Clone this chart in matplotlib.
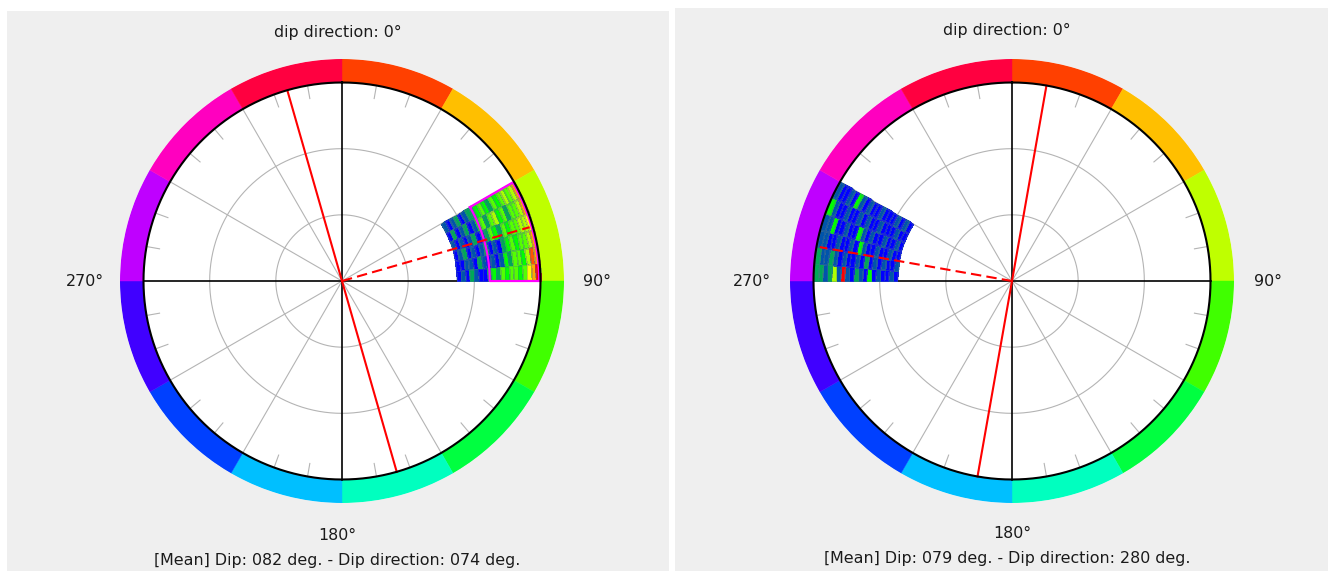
import numpy as np
import matplotlib.pyplot as plt
from matplotlib.colors import LinearSegmentedColormap
from matplotlib.patches import Rectangle

W, H = 1328, 571

# colour ring around the stereonet, clockwise from north, 30 deg per segment
ring_colors = ['#ff4000', '#ffbf00', '#bfff00', '#40ff00', '#00ff40', '#00ffbf',
               '#00bfff', '#0040ff', '#4000ff', '#bf00ff', '#ff00bf', '#ff0040']

# density grid: dip bins (radius) and dip direction bins (angle)
dip_edges = list(range(52, 92, 2))
left_dd_edges = [60, 65, 70, 75, 80, 85, 90]
right_dd_edges = [270, 275, 280, 285, 290, 295, 300]

# one row per dip-direction bin, one value per dip bin (52 -> 90)
left_counts = [
    [2, 1, 2, 3, 1, 2, 3, 3, 4, 5, 4, 3, 5, 4, 5, 6, 5, 6, 8],
    [1, 3, 1, 2, 3, 1, 2, 4, 5, 3, 5, 6, 4, 5, 3, 5, 5, 6, 8],
    [2, 1, 2, 1, 2, 3, 1, 2, 3, 5, 4, 3, 5, 4, 5, 5, 6, 6, 7],
    [1, 2, 3, 1, 2, 1, 2, 3, 1, 2, 1, 3, 4, 5, 4, 5, 5, 6, 8],
    [1, 1, 2, 2, 1, 3, 2, 1, 2, 1, 2, 4, 3, 5, 5, 4, 6, 9, 8],
    [1, 2, 1, 3, 2, 1, 1, 3, 4, 3, 5, 4, 5, 5, 4, 5, 7, 8, 10],
]
right_counts = [
    [1, 2, 1, 1, 2, 1, 4, 1, 2, 3, 1, 2, 10, 2, 6, 3, 2, 3, 3],
    [2, 1, 1, 2, 1, 2, 1, 3, 1, 2, 1, 1, 2, 1, 2, 3, 2, 2, 3],
    [1, 1, 2, 1, 1, 2, 1, 1, 2, 4, 1, 2, 1, 1, 2, 1, 1, 2, 2],
    [1, 2, 1, 1, 2, 1, 1, 2, 1, 2, 4, 1, 1, 2, 1, 1, 4, 2, 2],
    [1, 1, 2, 1, 1, 1, 2, 1, 1, 2, 1, 2, 1, 1, 2, 1, 1, 2, 4],
    [1, 2, 1, 2, 1, 1, 1, 2, 1, 1, 2, 1, 2, 4, 1, 2, 1, 1, 2],
]

left_mean = (82, 74)    # dip, dip direction
right_mean = (79, 280)
left_box = (60, 90, 67, 90)   # dd from, dd to, dip from, dip to

cmap = LinearSegmentedColormap.from_list('dens', ['#0000ff', '#00ff00', '#ffff00', '#ff0000'])

RMAX = 90 * 222 / 198.5
GRAY = '#b4b4b4'


def stereonet(fig, cx, cy, dd_edges, counts, mean, box=None):
    ax = fig.add_axes([(cx - 222) / W, (H - cy - 222) / H, 444 / W, 444 / H],
                      projection='polar')
    ax.set_zorder(2)
    ax.set_theta_zero_location('N')
    ax.set_theta_direction(-1)
    ax.set_ylim(0, RMAX)
    ax.set_xticks([])
    ax.set_yticks([])
    ax.grid(False)
    ax.spines['polar'].set_visible(False)
    ax.set_facecolor('white')

    # colour ring
    seg = np.deg2rad(np.arange(15, 360, 30))
    ax.bar(seg, RMAX - 90, width=np.deg2rad(30), bottom=90, color=ring_colors,
           edgecolor=ring_colors, linewidth=0.3, zorder=1)

    full = np.linspace(0, 2 * np.pi, 721)
    for r in (30, 60):
        ax.plot(full, np.full_like(full, r), color=GRAY, lw=0.8, zorder=1)
    for a in range(0, 360, 10):
        t = np.deg2rad(a)
        if a % 90 == 0:
            ax.plot([t, t], [0, 90], color='black', lw=1.2, zorder=1.5)
        elif a % 30 == 0:
            ax.plot([t, t], [0, 90], color=GRAY, lw=0.8, zorder=1)
        else:
            ax.plot([t, t], [84, 89.5], color=GRAY, lw=0.8, zorder=1)

    # density cells
    C = np.ma.masked_equal(np.array(counts).T, 0)
    ax.pcolormesh(np.deg2rad(dd_edges), dip_edges, C, cmap=cmap, vmin=1, vmax=10,
                  edgecolors=(0.3, 0.45, 0.55, 0.35), linewidth=0.4, zorder=2)

    if box is not None:
        a0, a1, d0, d1 = box
        arc = np.deg2rad(np.linspace(a0, a1, 60))
        th = np.concatenate([arc, arc[::-1], arc[:1]])
        rr = np.concatenate([np.full(60, d0), np.full(60, d1 - 0.6), [d0]])
        ax.plot(th, rr, color='#ff00ff', lw=1.6, zorder=3)

    dip, dd = mean
    for a in (dd - 90, dd + 90):
        t = np.deg2rad(a)
        ax.plot([t, t], [0, 90], color='#ff0000', lw=1.5, zorder=4)
    t = np.deg2rad(dd)
    ax.plot([t, t], [0, 88.5], color='#ff0000', lw=1.5, ls=(0, (5, 2.5)), zorder=4)

    ax.plot(full, np.full_like(full, 90), color='black', lw=1.5, zorder=5)
    return ax


def label(fig, x, y, s):
    fig.text(x / W, 1 - y / H, s, ha='center', va='center', fontsize=11.4,
             color='#1a1a1a', family='DejaVu Sans')


fig = plt.figure(figsize=(W / 100, H / 100), dpi=100)
fig.patch.set_facecolor('white')
fig.patches.append(Rectangle((7 / W, 0), 662 / W, 560 / H, transform=fig.transFigure,
                             facecolor='#efefef', edgecolor='none', zorder=-1))
fig.patches.append(Rectangle((675 / W, 0), 653 / W, 563 / H, transform=fig.transFigure,
                             facecolor='#efefef', edgecolor='none', zorder=-1))

stereonet(fig, 342, 281, left_dd_edges, left_counts, left_mean, left_box)
stereonet(fig, 1012, 281, right_dd_edges, right_counts, right_mean)

label(fig, 338, 32, 'dip direction: 0°')
label(fig, 85, 282, '270°')
label(fig, 597, 282, '90°')
label(fig, 337, 535, '180°')
label(fig, 337, 560, '[Mean] Dip: %03d deg. - Dip direction: %03d deg.' % left_mean)

label(fig, 1007, 30, 'dip direction: 0°')
label(fig, 752, 281, '270°')
label(fig, 1268, 281, '90°')
label(fig, 1012, 533, '180°')
label(fig, 1007, 559, '[Mean] Dip: %03d deg. - Dip direction: %03d deg.' % right_mean)

fig.savefig('out.png', dpi=100)
